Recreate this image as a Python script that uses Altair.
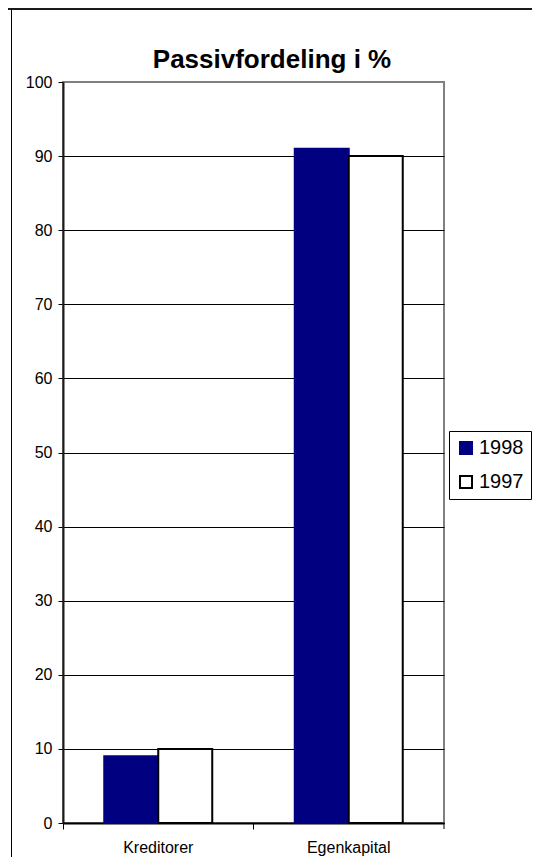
import altair as alt
import pandas as pd

categories = ["Kreditorer", "Egenkapital"]
years = ["1998", "1997"]
values_1998 = [9, 91]
values_1997 = [10, 90]
y_ticks = [0, 10, 20, 30, 40, 50, 60, 70, 80, 90, 100]
title_text = "Passivfordeling i %"

rows = []
for c, v in zip(categories, values_1998):
    rows.append({"kategori": c, "aar": "1998", "verdi": v})
for c, v in zip(categories, values_1997):
    rows.append({"kategori": c, "aar": "1997", "verdi": v})
df = pd.DataFrame(rows)

W, H = 381, 741
PL, PT, PR, PB = 55, 74, 88, 34
FONT = "Liberation Sans, Arial, sans-serif"

bars = alt.Chart(df).mark_bar(strokeWidth=2).encode(
    x=alt.X(
        "kategori:N",
        sort=categories,
        scale=alt.Scale(paddingInner=0, paddingOuter=0),
        axis=alt.Axis(
            title=None,
            labelAngle=0,
            bandPosition=0,
            domainColor="black",
            domainWidth=2,
            tickColor="black",
            tickSize=6,
            labelFontSize=16,
            labelPadding=10,
            labelColor="black",
            labelFont=FONT,
            grid=False,
        ),
    ),
    xOffset=alt.XOffset("aar:N", sort=years, scale=alt.Scale(paddingInner=0, paddingOuter=0.764)),
    y=alt.Y(
        "verdi:Q",
        scale=alt.Scale(domain=[0, 100], nice=False),
        axis=alt.Axis(
            title=None,
            values=y_ticks,
            grid=True,
            gridColor={"condition": {"test": "datum.value === 100", "value": "#808080"}, "value": "black"},
            gridWidth=1,
            domainColor="#1a1a1a",
            domainWidth=2,
            tickColor="black",
            tickSize=5,
            labelFontSize=16,
            labelPadding=6,
            labelColor="black",
            labelFont=FONT,
        ),
    ),
    color=alt.Color(
        "aar:N",
        sort=years,
        scale=alt.Scale(domain=years, range=["#000080", "#ffffff"]),
        legend=alt.Legend(title=None),
    ),
    stroke=alt.Stroke(
        "aar:N",
        sort=years,
        scale=alt.Scale(domain=years, range=["#000080", "#000000"]),
        legend=alt.Legend(title=None),
    ),
)

one = alt.Data(values=[{"t": title_text}])

title_mark = alt.Chart(one).mark_text(
    fontSize=26, fontWeight="bold", font=FONT, color="black",
    align="center", baseline="alphabetic",
).encode(
    text="t:N", x=alt.value(272 - 8 - PL), y=alt.value(68 - 8 - PT)
)

top_line = alt.Chart(one).mark_rule(color="#1a1a1a", strokeWidth=2).encode(
    x=alt.value(-PL), x2=alt.value(W + PR), y=alt.value(-PT + 1)
)
left_line = alt.Chart(one).mark_rule(color="black", strokeWidth=1).encode(
    x=alt.value(-PL + 3.5), y=alt.value(-PT + 1), y2=alt.value(H + PB)
)
right_tick = alt.Chart(one).mark_rule(color="black", strokeWidth=1).encode(
    x=alt.value(W), y=alt.value(H), y2=alt.value(H + 6)
)

chart = alt.layer(bars, title_mark, top_line, left_line, right_tick).properties(
    width=W,
    height=H,
    autosize=alt.AutoSizeParams(type="none"),
    padding={"left": PL, "top": PT, "right": PR, "bottom": PB},
).configure_view(
    stroke="#808080", strokeWidth=2
).configure_legend(
    orient="none",
    legendX=386,
    legendY=349,
    strokeColor="black",
    strokeWidth=1,
    fillColor="white",
    padding=7,
    labelFontSize=20,
    labelFont=FONT,
    labelColor="black",
    labelOffset=3,
    rowPadding=14,
    symbolType="square",
    symbolSize=144,
    symbolStrokeWidth=2,
)

chart.save("out.html", embed_options={"renderer": "svg", "actions": False})
